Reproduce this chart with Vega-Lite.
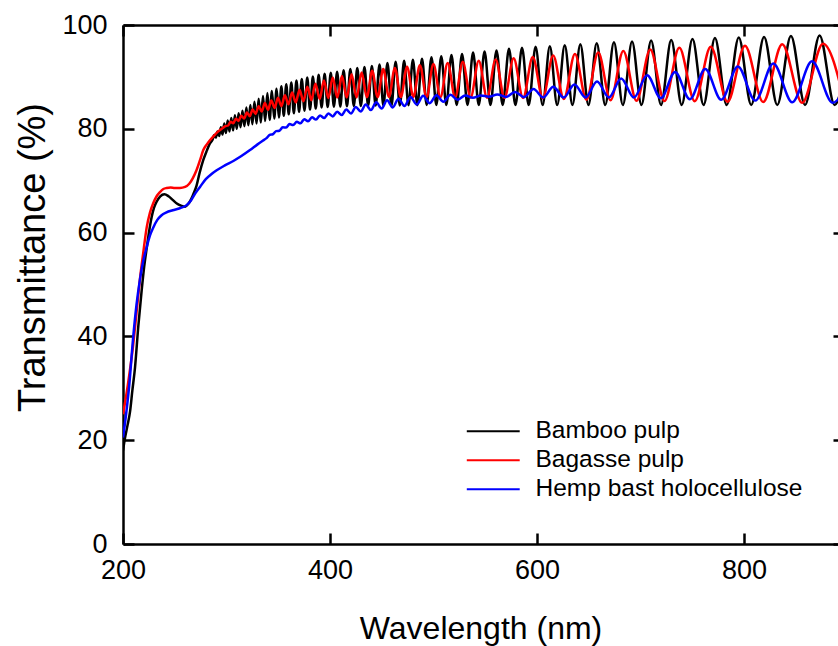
{
"$schema": "https://vega.github.io/schema/vega-lite/v6.json",
"width": 715, "height": 519,
"autosize": {"type": "none"},
"padding": {"left": 123, "top": 25, "right": 0, "bottom": 102},
"background": "white",
"config": {"font": "Liberation Sans", "view": {"stroke": null}},
"datasets": {
"frame": [{"w": 200, "t": 0}],
"spectra": [
{"s":"Bamboo pulp","w":200,"t":18},{"s":"Bamboo pulp","w":202,"t":20.5},{"s":"Bamboo pulp","w":204.5,"t":23},{"s":"Bamboo pulp","w":206.8,"t":25.5},{"s":"Bamboo pulp","w":209,"t":29.5},{"s":"Bamboo pulp","w":211.6,"t":34},{"s":"Bamboo pulp","w":214.8,"t":42},{"s":"Bamboo pulp","w":218.1,"t":49},{"s":"Bamboo pulp","w":220.5,"t":53.5},{"s":"Bamboo pulp","w":222.9,"t":57},{"s":"Bamboo pulp","w":225.3,"t":60.3},{"s":"Bamboo pulp","w":227.7,"t":63},{"s":"Bamboo pulp","w":230,"t":64.8},{"s":"Bamboo pulp","w":232.6,"t":66},{"s":"Bamboo pulp","w":236,"t":67},{"s":"Bamboo pulp","w":240,"t":67.4},{"s":"Bamboo pulp","w":244,"t":67},{"s":"Bamboo pulp","w":248,"t":66.3},{"s":"Bamboo pulp","w":252,"t":65.6},{"s":"Bamboo pulp","w":256,"t":65.2},{"s":"Bamboo pulp","w":260,"t":65},{"s":"Bamboo pulp","w":263,"t":65.5},{"s":"Bamboo pulp","w":266,"t":66.5},{"s":"Bamboo pulp","w":268.5,"t":67.7},{"s":"Bamboo pulp","w":271,"t":69},{"s":"Bamboo pulp","w":274,"t":71.5},{"s":"Bamboo pulp","w":277.6,"t":74},{"s":"Bamboo pulp","w":281,"t":75.8},{"s":"Bamboo pulp","w":284,"t":77.2},{"s":"Bamboo pulp","w":286.5,"t":77.9},
{"s":"Bamboo pulp","w":288.14,"t":78.8},{"s":"Bamboo pulp","w":289.71,"t":78.3},{"s":"Bamboo pulp","w":291.29,"t":79.5},{"s":"Bamboo pulp","w":292.89,"t":78.6},{"s":"Bamboo pulp","w":294.51,"t":80.3},{"s":"Bamboo pulp","w":296.14,"t":78.9},{"s":"Bamboo pulp","w":297.8,"t":81.0},{"s":"Bamboo pulp","w":299.47,"t":79.2},{"s":"Bamboo pulp","w":301.16,"t":81.6},{"s":"Bamboo pulp","w":302.87,"t":79.5},{"s":"Bamboo pulp","w":304.6,"t":82.1},{"s":"Bamboo pulp","w":306.35,"t":79.7},{"s":"Bamboo pulp","w":308.12,"t":82.6},{"s":"Bamboo pulp","w":309.91,"t":80.0},{"s":"Bamboo pulp","w":311.72,"t":83.0},{"s":"Bamboo pulp","w":313.56,"t":80.3},{"s":"Bamboo pulp","w":315.41,"t":83.5},{"s":"Bamboo pulp","w":317.29,"t":80.5},{"s":"Bamboo pulp","w":319.18,"t":84.1},{"s":"Bamboo pulp","w":321.11,"t":80.7},{"s":"Bamboo pulp","w":323.05,"t":84.6},{"s":"Bamboo pulp","w":325.02,"t":80.9},{"s":"Bamboo pulp","w":327.01,"t":85.2},{"s":"Bamboo pulp","w":329.03,"t":81.0},{"s":"Bamboo pulp","w":331.07,"t":85.8},{"s":"Bamboo pulp","w":333.14,"t":81.2},{"s":"Bamboo pulp","w":335.23,"t":86.3},{"s":"Bamboo pulp","w":337.35,"t":81.5},{"s":"Bamboo pulp","w":339.5,"t":86.9},{"s":"Bamboo pulp","w":341.68,"t":81.7},{"s":"Bamboo pulp","w":343.88,"t":87.3},{"s":"Bamboo pulp","w":346.11,"t":82.0},{"s":"Bamboo pulp","w":348.37,"t":87.7},{"s":"Bamboo pulp","w":350.66,"t":82.2},{"s":"Bamboo pulp","w":352.99,"t":88.2},{"s":"Bamboo pulp","w":355.34,"t":82.5},{"s":"Bamboo pulp","w":357.72,"t":88.6},{"s":"Bamboo pulp","w":360.14,"t":82.8},{"s":"Bamboo pulp","w":362.59,"t":88.9},{"s":"Bamboo pulp","w":365.07,"t":83.0},{"s":"Bamboo pulp","w":367.58,"t":89.3},{"s":"Bamboo pulp","w":370.13,"t":83.3},{"s":"Bamboo pulp","w":372.72,"t":89.6},{"s":"Bamboo pulp","w":375.34,"t":83.5},{"s":"Bamboo pulp","w":378.0,"t":89.9},{"s":"Bamboo pulp","w":380.7,"t":83.7},{"s":"Bamboo pulp","w":383.44,"t":90.1},{"s":"Bamboo pulp","w":386.21,"t":83.9},{"s":"Bamboo pulp","w":389.03,"t":90.4},{"s":"Bamboo pulp","w":391.89,"t":84.1},{"s":"Bamboo pulp","w":394.79,"t":90.6},{"s":"Bamboo pulp","w":397.74,"t":84.2},{"s":"Bamboo pulp","w":400.72,"t":90.8},{"s":"Bamboo pulp","w":403.76,"t":84.25},{"s":"Bamboo pulp","w":406.84,"t":91.0},{"s":"Bamboo pulp","w":409.97,"t":84.3},{"s":"Bamboo pulp","w":413.14,"t":91.3},{"s":"Bamboo pulp","w":416.37,"t":84.35},{"s":"Bamboo pulp","w":419.64,"t":91.5},{"s":"Bamboo pulp","w":422.97,"t":84.4},{"s":"Bamboo pulp","w":426.35,"t":91.7},{"s":"Bamboo pulp","w":429.79,"t":84.4},{"s":"Bamboo pulp","w":433.28,"t":91.9},{"s":"Bamboo pulp","w":436.83,"t":84.45},{"s":"Bamboo pulp","w":440.44,"t":92.1},{"s":"Bamboo pulp","w":444.1,"t":84.5},{"s":"Bamboo pulp","w":447.83,"t":92.4},{"s":"Bamboo pulp","w":451.62,"t":84.5},{"s":"Bamboo pulp","w":455.48,"t":92.7},{"s":"Bamboo pulp","w":459.41,"t":84.5},{"s":"Bamboo pulp","w":463.4,"t":92.9},{"s":"Bamboo pulp","w":467.46,"t":84.5},{"s":"Bamboo pulp","w":471.59,"t":93.1},{"s":"Bamboo pulp","w":475.8,"t":84.55},{"s":"Bamboo pulp","w":480.08,"t":93.3},{"s":"Bamboo pulp","w":484.44,"t":84.55},{"s":"Bamboo pulp","w":488.88,"t":93.5},{"s":"Bamboo pulp","w":493.41,"t":84.6},{"s":"Bamboo pulp","w":498.01,"t":93.8},{"s":"Bamboo pulp","w":502.71,"t":84.6},{"s":"Bamboo pulp","w":507.49,"t":94.0},{"s":"Bamboo pulp","w":512.37,"t":84.6},{"s":"Bamboo pulp","w":517.34,"t":94.2},{"s":"Bamboo pulp","w":522.4,"t":84.6},{"s":"Bamboo pulp","w":527.57,"t":94.4},{"s":"Bamboo pulp","w":532.84,"t":84.6},{"s":"Bamboo pulp","w":538.22,"t":94.7},{"s":"Bamboo pulp","w":543.71,"t":84.6},{"s":"Bamboo pulp","w":549.31,"t":94.9},{"s":"Bamboo pulp","w":555.02,"t":84.6},{"s":"Bamboo pulp","w":560.86,"t":95.1},{"s":"Bamboo pulp","w":566.82,"t":84.6},{"s":"Bamboo pulp","w":572.91,"t":95.4},{"s":"Bamboo pulp","w":579.13,"t":84.6},{"s":"Bamboo pulp","w":585.49,"t":95.6},{"s":"Bamboo pulp","w":591.99,"t":84.6},{"s":"Bamboo pulp","w":598.63,"t":95.8},{"s":"Bamboo pulp","w":605.43,"t":84.6},{"s":"Bamboo pulp","w":612.38,"t":95.9},{"s":"Bamboo pulp","w":619.49,"t":84.6},{"s":"Bamboo pulp","w":626.77,"t":96.1},{"s":"Bamboo pulp","w":634.23,"t":84.6},{"s":"Bamboo pulp","w":641.86,"t":96.3},{"s":"Bamboo pulp","w":649.67,"t":84.6},{"s":"Bamboo pulp","w":657.69,"t":96.5},{"s":"Bamboo pulp","w":665.9,"t":84.6},{"s":"Bamboo pulp","w":674.32,"t":96.7},{"s":"Bamboo pulp","w":682.95,"t":84.6},{"s":"Bamboo pulp","w":691.81,"t":96.8},{"s":"Bamboo pulp","w":700.91,"t":84.6},{"s":"Bamboo pulp","w":710.24,"t":97.0},{"s":"Bamboo pulp","w":719.82,"t":84.6},{"s":"Bamboo pulp","w":729.67,"t":97.1},{"s":"Bamboo pulp","w":739.79,"t":84.6},{"s":"Bamboo pulp","w":750.2,"t":97.3},{"s":"Bamboo pulp","w":760.9,"t":84.6},{"s":"Bamboo pulp","w":771.91,"t":97.5},{"s":"Bamboo pulp","w":783.25,"t":84.6},{"s":"Bamboo pulp","w":794.93,"t":97.6},{"s":"Bamboo pulp","w":806.95,"t":84.6},{"s":"Bamboo pulp","w":819.35,"t":97.7},{"s":"Bamboo pulp","w":832.13,"t":84.6},{"s":"Bamboo pulp","w":845.32,"t":97.9},{"s":"Bamboo pulp","w":858.93,"t":84.6},{"s":"Bamboo pulp","w":873.0,"t":98.0},{"s":"Bamboo pulp","w":887.52,"t":84.6},{"s":"Bamboo pulp","w":902.54,"t":98.2},
{"s":"Bagasse pulp","w":200,"t":25},{"s":"Bagasse pulp","w":203,"t":28.5},{"s":"Bagasse pulp","w":206,"t":32.5},{"s":"Bagasse pulp","w":209.6,"t":38},{"s":"Bagasse pulp","w":213,"t":44.5},{"s":"Bagasse pulp","w":216.3,"t":50.9},{"s":"Bagasse pulp","w":219.5,"t":56},{"s":"Bagasse pulp","w":222.9,"t":61},{"s":"Bagasse pulp","w":226,"t":63.8},{"s":"Bagasse pulp","w":229.3,"t":65.7},{"s":"Bagasse pulp","w":232.5,"t":67},{"s":"Bagasse pulp","w":235.7,"t":67.8},{"s":"Bagasse pulp","w":239,"t":68.4},{"s":"Bagasse pulp","w":242.2,"t":68.6},{"s":"Bagasse pulp","w":246,"t":68.7},{"s":"Bagasse pulp","w":250,"t":68.6},{"s":"Bagasse pulp","w":255,"t":68.6},{"s":"Bagasse pulp","w":260,"t":68.8},{"s":"Bagasse pulp","w":264,"t":69.4},{"s":"Bagasse pulp","w":267.5,"t":70.5},{"s":"Bagasse pulp","w":271,"t":72},{"s":"Bagasse pulp","w":274.5,"t":74},{"s":"Bagasse pulp","w":277.6,"t":75.9},{"s":"Bagasse pulp","w":281,"t":77},{"s":"Bagasse pulp","w":284,"t":77.8},{"s":"Bagasse pulp","w":288,"t":78.7},{"s":"Bagasse pulp","w":292,"t":79.5},{"s":"Bagasse pulp","w":296,"t":80.1},{"s":"Bagasse pulp","w":299,"t":80.5},
{"s":"Bagasse pulp","w":301.57,"t":80.64},{"s":"Bagasse pulp","w":304.03,"t":81.35},{"s":"Bagasse pulp","w":306.53,"t":81.07},{"s":"Bagasse pulp","w":309.08,"t":81.92},{"s":"Bagasse pulp","w":311.66,"t":81.52},{"s":"Bagasse pulp","w":314.29,"t":82.51},{"s":"Bagasse pulp","w":316.97,"t":81.99},{"s":"Bagasse pulp","w":319.69,"t":83.12},{"s":"Bagasse pulp","w":322.45,"t":82.44},{"s":"Bagasse pulp","w":325.27,"t":83.73},{"s":"Bagasse pulp","w":328.14,"t":82.87},{"s":"Bagasse pulp","w":331.05,"t":84.36},{"s":"Bagasse pulp","w":334.02,"t":83.33},{"s":"Bagasse pulp","w":337.04,"t":84.97},{"s":"Bagasse pulp","w":340.12,"t":83.67},{"s":"Bagasse pulp","w":343.26,"t":85.46},{"s":"Bagasse pulp","w":346.45,"t":84.01},{"s":"Bagasse pulp","w":349.7,"t":85.98},{"s":"Bagasse pulp","w":353.02,"t":84.36},{"s":"Bagasse pulp","w":356.4,"t":86.48},{"s":"Bagasse pulp","w":359.84,"t":84.72},{"s":"Bagasse pulp","w":363.35,"t":87.0},{"s":"Bagasse pulp","w":366.93,"t":85.09},{"s":"Bagasse pulp","w":370.58,"t":87.54},{"s":"Bagasse pulp","w":374.31,"t":85.32},{"s":"Bagasse pulp","w":378.11,"t":88.1},{"s":"Bagasse pulp","w":381.98,"t":85.52},{"s":"Bagasse pulp","w":385.94,"t":88.68},{"s":"Bagasse pulp","w":389.98,"t":85.74},{"s":"Bagasse pulp","w":394.11,"t":89.33},{"s":"Bagasse pulp","w":398.33,"t":85.95},{"s":"Bagasse pulp","w":402.63,"t":89.89},{"s":"Bagasse pulp","w":407.03,"t":86.02},{"s":"Bagasse pulp","w":411.53,"t":90.19},{"s":"Bagasse pulp","w":416.13,"t":86.03},{"s":"Bagasse pulp","w":420.83,"t":90.5},{"s":"Bagasse pulp","w":425.64,"t":86.05},{"s":"Bagasse pulp","w":430.56,"t":90.84},{"s":"Bagasse pulp","w":435.6,"t":86.07},{"s":"Bagasse pulp","w":440.75,"t":91.18},{"s":"Bagasse pulp","w":446.03,"t":86.09},{"s":"Bagasse pulp","w":451.44,"t":91.5},{"s":"Bagasse pulp","w":456.97,"t":86.13},{"s":"Bagasse pulp","w":462.65,"t":91.73},{"s":"Bagasse pulp","w":468.47,"t":86.12},{"s":"Bagasse pulp","w":474.44,"t":91.97},{"s":"Bagasse pulp","w":480.56,"t":86.11},{"s":"Bagasse pulp","w":486.84,"t":92.24},{"s":"Bagasse pulp","w":493.29,"t":86.1},{"s":"Bagasse pulp","w":499.91,"t":92.5},{"s":"Bagasse pulp","w":506.71,"t":86.09},{"s":"Bagasse pulp","w":513.7,"t":92.69},{"s":"Bagasse pulp","w":520.88,"t":86.06},{"s":"Bagasse pulp","w":528.27,"t":92.9},{"s":"Bagasse pulp","w":535.87,"t":86.03},{"s":"Bagasse pulp","w":543.7,"t":93.11},{"s":"Bagasse pulp","w":551.75,"t":86.0},{"s":"Bagasse pulp","w":560.05,"t":93.34},{"s":"Bagasse pulp","w":568.6,"t":85.96},{"s":"Bagasse pulp","w":577.41,"t":93.58},{"s":"Bagasse pulp","w":586.51,"t":85.93},{"s":"Bagasse pulp","w":595.89,"t":93.84},{"s":"Bagasse pulp","w":605.58,"t":85.9},{"s":"Bagasse pulp","w":615.59,"t":94.1},{"s":"Bagasse pulp","w":625.93,"t":85.75},{"s":"Bagasse pulp","w":636.64,"t":94.4},{"s":"Bagasse pulp","w":647.71,"t":85.6},{"s":"Bagasse pulp","w":659.17,"t":94.7},{"s":"Bagasse pulp","w":671.05,"t":85.5},{"s":"Bagasse pulp","w":683.37,"t":95.0},{"s":"Bagasse pulp","w":696.13,"t":85.4},{"s":"Bagasse pulp","w":709.39,"t":95.3},{"s":"Bagasse pulp","w":723.17,"t":85.35},{"s":"Bagasse pulp","w":737.48,"t":95.6},{"s":"Bagasse pulp","w":752.38,"t":85.3},{"s":"Bagasse pulp","w":767.89,"t":95.8},{"s":"Bagasse pulp","w":784.06,"t":85.2},{"s":"Bagasse pulp","w":800.92,"t":96.0},{"s":"Bagasse pulp","w":818.52,"t":85.15},{"s":"Bagasse pulp","w":836.92,"t":96.3},{"s":"Bagasse pulp","w":856.16,"t":85.0},{"s":"Bagasse pulp","w":876.3,"t":96.4},{"s":"Bagasse pulp","w":897.42,"t":84.9},
{"s":"Hemp bast holocellulose","w":200,"t":20.5},{"s":"Hemp bast holocellulose","w":203,"t":25},{"s":"Hemp bast holocellulose","w":206,"t":30.5},{"s":"Hemp bast holocellulose","w":209.6,"t":39.3},{"s":"Hemp bast holocellulose","w":213,"t":46},{"s":"Hemp bast holocellulose","w":216.3,"t":50.9},{"s":"Hemp bast holocellulose","w":219.5,"t":54.5},{"s":"Hemp bast holocellulose","w":222.9,"t":57.2},{"s":"Hemp bast holocellulose","w":226,"t":59.4},{"s":"Hemp bast holocellulose","w":229.3,"t":61},{"s":"Hemp bast holocellulose","w":233,"t":62.4},{"s":"Hemp bast holocellulose","w":237,"t":63.3},{"s":"Hemp bast holocellulose","w":242,"t":63.9},{"s":"Hemp bast holocellulose","w":248,"t":64.3},{"s":"Hemp bast holocellulose","w":255,"t":64.7},{"s":"Hemp bast holocellulose","w":261.5,"t":65.3},{"s":"Hemp bast holocellulose","w":266,"t":66.3},{"s":"Hemp bast holocellulose","w":270,"t":67.6},{"s":"Hemp bast holocellulose","w":274.4,"t":68.8},{"s":"Hemp bast holocellulose","w":280,"t":70.3},{"s":"Hemp bast holocellulose","w":285,"t":71.2},{"s":"Hemp bast holocellulose","w":290.5,"t":72},{"s":"Hemp bast holocellulose","w":298,"t":72.9},{"s":"Hemp bast holocellulose","w":306.6,"t":73.8},{"s":"Hemp bast holocellulose","w":314,"t":74.7},{"s":"Hemp bast holocellulose","w":322.7,"t":75.9},{"s":"Hemp bast holocellulose","w":330,"t":77.0},{"s":"Hemp bast holocellulose","w":335,"t":77.7},
{"s":"Hemp bast holocellulose","w":338.69,"t":78.2},{"s":"Hemp bast holocellulose","w":341.7,"t":78.81},{"s":"Hemp bast holocellulose","w":344.77,"t":78.95},{"s":"Hemp bast holocellulose","w":347.9,"t":79.55},{"s":"Hemp bast holocellulose","w":351.08,"t":79.63},{"s":"Hemp bast holocellulose","w":354.32,"t":80.29},{"s":"Hemp bast holocellulose","w":357.62,"t":80.25},{"s":"Hemp bast holocellulose","w":360.98,"t":80.94},{"s":"Hemp bast holocellulose","w":364.41,"t":80.71},{"s":"Hemp bast holocellulose","w":367.9,"t":81.34},{"s":"Hemp bast holocellulose","w":371.46,"t":81.07},{"s":"Hemp bast holocellulose","w":375.09,"t":81.82},{"s":"Hemp bast holocellulose","w":378.79,"t":81.44},{"s":"Hemp bast holocellulose","w":382.57,"t":82.21},{"s":"Hemp bast holocellulose","w":386.42,"t":81.77},{"s":"Hemp bast holocellulose","w":390.35,"t":82.57},{"s":"Hemp bast holocellulose","w":394.36,"t":82.09},{"s":"Hemp bast holocellulose","w":398.45,"t":82.94},{"s":"Hemp bast holocellulose","w":402.63,"t":82.39},{"s":"Hemp bast holocellulose","w":406.9,"t":83.3},{"s":"Hemp bast holocellulose","w":411.25,"t":82.64},{"s":"Hemp bast holocellulose","w":415.71,"t":83.72},{"s":"Hemp bast holocellulose","w":420.26,"t":82.95},{"s":"Hemp bast holocellulose","w":424.91,"t":84.2},{"s":"Hemp bast holocellulose","w":429.67,"t":83.32},{"s":"Hemp bast holocellulose","w":434.53,"t":84.7},{"s":"Hemp bast holocellulose","w":439.51,"t":83.61},{"s":"Hemp bast holocellulose","w":444.6,"t":85.1},{"s":"Hemp bast holocellulose","w":449.81,"t":83.9},{"s":"Hemp bast holocellulose","w":455.14,"t":85.49},{"s":"Hemp bast holocellulose","w":460.6,"t":84.12},{"s":"Hemp bast holocellulose","w":466.2,"t":85.79},{"s":"Hemp bast holocellulose","w":471.93,"t":84.4},{"s":"Hemp bast holocellulose","w":477.8,"t":86.14},{"s":"Hemp bast holocellulose","w":483.82,"t":84.67},{"s":"Hemp bast holocellulose","w":490.0,"t":86.36},{"s":"Hemp bast holocellulose","w":496.33,"t":84.93},{"s":"Hemp bast holocellulose","w":502.83,"t":86.48},{"s":"Hemp bast holocellulose","w":509.51,"t":85.22},{"s":"Hemp bast holocellulose","w":516.36,"t":86.55},{"s":"Hemp bast holocellulose","w":523.4,"t":85.6},{"s":"Hemp bast holocellulose","w":530.64,"t":86.44},{"s":"Hemp bast holocellulose","w":538.07,"t":85.98},{"s":"Hemp bast holocellulose","w":545.72,"t":86.43},{"s":"Hemp bast holocellulose","w":553.59,"t":86.18},{"s":"Hemp bast holocellulose","w":561.69,"t":86.62},{"s":"Hemp bast holocellulose","w":570.03,"t":86.14},{"s":"Hemp bast holocellulose","w":578.63,"t":87.1},{"s":"Hemp bast holocellulose","w":587.48,"t":86.1},{"s":"Hemp bast holocellulose","w":596.61,"t":87.66},{"s":"Hemp bast holocellulose","w":606.03,"t":86.04},{"s":"Hemp bast holocellulose","w":615.75,"t":88.09},{"s":"Hemp bast holocellulose","w":625.79,"t":86.01},{"s":"Hemp bast holocellulose","w":636.16,"t":88.55},{"s":"Hemp bast holocellulose","w":646.88,"t":86.03},{"s":"Hemp bast holocellulose","w":657.97,"t":89.1},{"s":"Hemp bast holocellulose","w":669.44,"t":86.04},{"s":"Hemp bast holocellulose","w":681.32,"t":89.71},{"s":"Hemp bast holocellulose","w":693.63,"t":86.01},{"s":"Hemp bast holocellulose","w":706.4,"t":90.34},{"s":"Hemp bast holocellulose","w":719.64,"t":85.89},{"s":"Hemp bast holocellulose","w":733.39,"t":90.94},{"s":"Hemp bast holocellulose","w":747.67,"t":85.71},{"s":"Hemp bast holocellulose","w":762.53,"t":91.51},{"s":"Hemp bast holocellulose","w":777.98,"t":85.59},{"s":"Hemp bast holocellulose","w":794.07,"t":92.0},{"s":"Hemp bast holocellulose","w":810.85,"t":85.43},{"s":"Hemp bast holocellulose","w":828.34,"t":92.6},{"s":"Hemp bast holocellulose","w":846.61,"t":85.12},{"s":"Hemp bast holocellulose","w":865.7,"t":93.0},{"s":"Hemp bast holocellulose","w":885.67,"t":85.0},{"s":"Hemp bast holocellulose","w":906.59,"t":93.3}
]},
"layer": [
{"data": {"name": "spectra"},
 "mark": {"type": "line", "interpolate": "monotone", "strokeWidth": 2.5, "clip": true},
 "encoding": {
  "x": {"field": "w", "type": "quantitative", "scale": {"domain": [200, 890.8], "nice": false, "zero": false},
        "axis": {"orient": "bottom", "values": [200, 400, 600, 800], "title": "Wavelength (nm)", "grid": false,
                 "titleFontSize": 32, "titleFontWeight": "normal", "titleColor": "black", "titlePadding": 30, "titleFont": "Liberation Sans",
                 "labelFontSize": 27, "labelColor": "black", "labelPadding": 24, "labelFlush": false, "labelOverlap": false, "labelFont": "Liberation Sans",
                 "tickSize": -11, "tickWidth": 2.5, "tickColor": "black", "domainColor": "black", "domainWidth": 2.5}},
  "y": {"field": "t", "type": "quantitative", "scale": {"domain": [0, 100], "nice": false, "zero": false},
        "axis": {"orient": "left", "values": [0, 20, 40, 60, 80, 100], "title": "Transmittance (%)", "grid": false,
                 "titleFontSize": 38, "titleFontWeight": "normal", "titleColor": "black", "titlePadding": 9, "titleFont": "Liberation Sans", "titleY": 232,
                 "labelFontSize": 27, "labelColor": "black", "labelPadding": 27, "labelFlush": false, "labelOverlap": false, "labelFont": "Liberation Sans",
                 "tickSize": -11, "tickWidth": 2.5, "tickColor": "black", "domainColor": "black", "domainWidth": 2.5}},
  "color": {"field": "s", "type": "nominal",
            "scale": {"domain": ["Bamboo pulp", "Bagasse pulp", "Hemp bast holocellulose"], "range": ["#000000", "#ff0000", "#0000ff"]},
            "legend": {"orient": "none", "legendX": 358, "legendY": 394, "title": null, "symbolType": "M-5,0H5", "symbolSize": 112,
                       "symbolStrokeWidth": 2, "labelFontSize": 24.5, "labelColor": "black", "labelFont": "Liberation Sans", "labelLimit": 500,
                       "labelOffset": 30, "rowPadding": 4, "padding": 0}}
 }},
{"data": {"name": "frame"},
 "mark": {"type": "point", "opacity": 0},
 "encoding": {
  "x": {"field": "w", "type": "quantitative", "scale": {"domain": [200, 890.8], "nice": false, "zero": false},
        "axis": {"orient": "top", "values": [200, 400, 600, 800], "title": null, "labels": false, "grid": false,
                 "tickSize": -11, "tickWidth": 2.5, "tickColor": "black", "domainColor": "black", "domainWidth": 2.5}},
  "y": {"field": "t", "type": "quantitative", "scale": {"domain": [0, 100], "nice": false, "zero": false},
        "axis": {"orient": "right", "values": [0, 20, 40, 60, 80, 100], "title": null, "labels": false, "grid": false, "domain": false,
                 "tickSize": -5, "tickWidth": 2.5, "tickColor": "black"}}
 }}
],
"resolve": {"axis": {"x": "independent", "y": "independent"}}
}
